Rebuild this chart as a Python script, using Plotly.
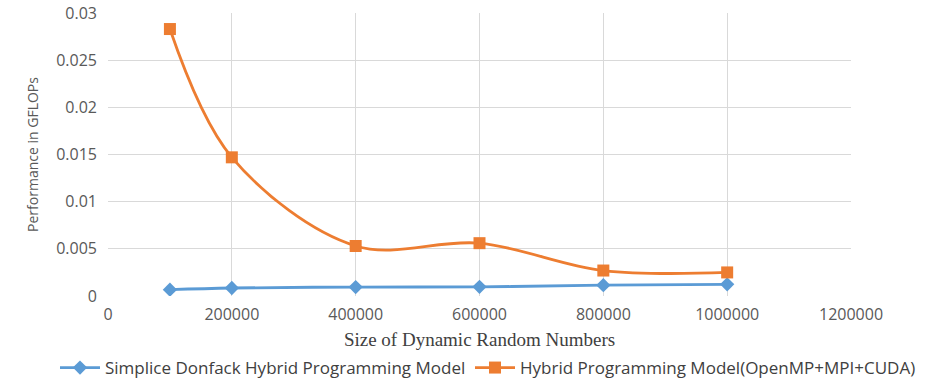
import plotly.graph_objects as go

sizes = [100000, 200000, 400000, 600000, 800000, 1000000]
donfack = [0.00067, 0.00085, 0.00095, 0.00097, 0.00115, 0.00124]
hybrid = [0.0283, 0.0147, 0.0053, 0.0056, 0.0027, 0.0025]
x_ticks = [0, 200000, 400000, 600000, 800000, 1000000, 1200000]
y_ticks = [0, 0.005, 0.01, 0.015, 0.02, 0.025, 0.03]
y_tick_labels = ["0", "0.005", "0.01", "0.015", "0.02", "0.025", "0.03"]

tick_font = dict(family="Open Sans, Liberation Sans, sans-serif", size=16, color="#595959")
legend_font = dict(family="Open Sans, Liberation Sans, sans-serif", size=17, color="#404040")

fig = go.Figure()
fig.add_trace(go.Scatter(
    x=sizes, y=donfack, mode="lines+markers",
    name="Simplice Donfack Hybrid Programming Model",
    line=dict(color="#5B9BD5", width=2.8, shape="spline", smoothing=1),
    marker=dict(symbol="diamond", size=11, color="#5B9BD5"),
    legend="legend",
))
fig.add_trace(go.Scatter(
    x=sizes, y=hybrid, mode="lines+markers",
    name="Hybrid Programming Model(OpenMP+MPI+CUDA)",
    line=dict(color="#ED7D31", width=2.8, shape="spline", smoothing=1),
    marker=dict(symbol="square", size=12, color="#ED7D31"),
    legend="legend2",
))

fig.update_layout(
    width=926, height=387,
    margin=dict(l=108, r=75, t=13, b=91),
    paper_bgcolor="white", plot_bgcolor="white",
    showlegend=True,
    legend=dict(orientation="h", x=55 / 926, xanchor="left", xref="container",
                y=19 / 387, yanchor="middle", yref="container",
                font=legend_font, itemwidth=40, bgcolor="rgba(0,0,0,0)",
                borderwidth=0),
    legend2=dict(orientation="h", x=470 / 926, xanchor="left", xref="container",
                 y=19 / 387, yanchor="middle", yref="container",
                 font=legend_font, itemwidth=40, bgcolor="rgba(0,0,0,0)",
                 borderwidth=0),
    xaxis=dict(range=[0, 1200000], tickvals=x_ticks, ticktext=[str(v) for v in x_ticks],
               showgrid=True, gridcolor="#D9D9D9", gridwidth=1, zeroline=False,
               showline=False, tickfont=tick_font, ticks="", automargin=False,
               ticklabelstandoff=7,
               title=dict(text="Size of Dynamic Random Numbers",
                          font=dict(family="Liberation Serif, Times New Roman, serif", size=19, color="#404040"),
                          standoff=16)),
    yaxis=dict(range=[0, 0.03], tickvals=y_ticks, ticktext=y_tick_labels,
               showgrid=True, gridcolor="#D9D9D9", gridwidth=1, zeroline=False,
               showline=False, tickfont=tick_font, ticks="", automargin=False,
               ticklabelstandoff=10,
               title=dict(text="Performance in GFLOPs",
                          font=dict(family="Open Sans, Liberation Sans, sans-serif", size=14, color="#595959"),
                          standoff=14)),
)

fig.write_html("out.html", config={"displayModeBar": False},
               post_script="document.body.style.margin='0';")
